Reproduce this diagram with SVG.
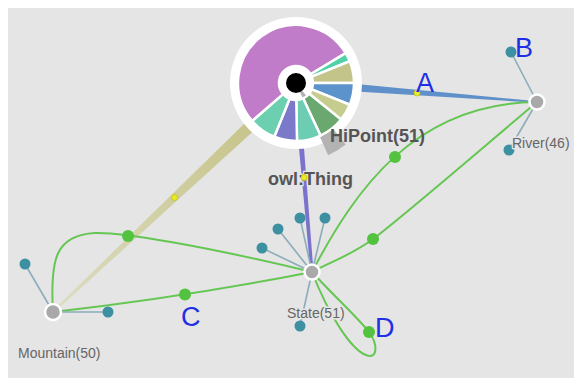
<svg xmlns="http://www.w3.org/2000/svg" width="574" height="378" viewBox="0 0 574 378">
  <defs>
    <linearGradient id="olive" gradientUnits="userSpaceOnUse" x1="296" y1="83" x2="53" y2="312">
      <stop offset="0" stop-color="#c2bf7f"/>
      <stop offset="1" stop-color="#dcdcc2"/>
    </linearGradient>
    <style>
      .green { fill: none; stroke: #66c653; stroke-width: 2; }
      .gdot { fill: #52c23f; }
      .sat { stroke: #8aadb9; stroke-width: 1.6; }
      .sdot { fill: #3d8fa2; }
      .node { fill: #a9a9a9; stroke: #ffffff; stroke-width: 2.5; }
      .ydot { fill: #e9e92e; stroke: #c4c400; stroke-width: 0.8; }
      .lbl { font-family: "Liberation Sans", Arial, sans-serif; font-size: 14px; fill: #666666; stroke: #e5e5e5; stroke-width: 3; paint-order: stroke; stroke-linejoin: round; }
      .big { font-family: "Liberation Sans", Arial, sans-serif; font-size: 18px; font-weight: bold; fill: #555555; }
      .letter { font-family: "Liberation Sans", Arial, sans-serif; font-size: 27px; fill: #1f2fe6; }
      .slice { stroke: #ffffff; stroke-width: 2.5; stroke-linejoin: round; }
    </style>
  </defs>

  <rect x="0" y="0" width="574" height="378" fill="#ffffff"/>
  <rect x="8" y="8" width="566" height="370" fill="#e5e5e5"/>

  <g id="connectors">
    <!-- tapered class links -->
    <polygon points="296.37,78.31 537.06,101.20 536.94,102.80 295.63,87.69" fill="#5f90c9"/>
    <polygon points="300.80,88.09 53.69,312.73 52.31,311.27 291.20,77.91" fill="url(#olive)"/>
    <polygon points="298.99,82.75 313.49,271.87 310.51,272.13 293.01,83.25" fill="#7b72cc"/>
    <!-- green property links -->
    <path class="green" d="M53,312 C50,260 55,235 95,233 C120,232 200,245 312,272"/>
    <path class="green" d="M53,312 Q185,297 312,272"/>
    <path class="green" d="M312,272 C355,190 415,103 537,102"/>
    <path class="green" d="M312,272 C330,262 350,256 373,239 C400,219 480,150 537,102"/>
    <path class="green" d="M312,272 C335,297 358,318 369,332 C378,344 378,360 366,355 C352,350 330,318 312,272"/>
    <!-- satellite links -->
    <line class="sat" x1="537" y1="102" x2="511" y2="52"/>
    <line class="sat" x1="537" y1="102" x2="509" y2="150"/>
    <line class="sat" x1="53" y1="312" x2="25" y2="264"/>
    <line class="sat" x1="53" y1="312" x2="108" y2="312"/>
    <line class="sat" x1="312" y1="272" x2="262" y2="248"/>
    <line class="sat" x1="312" y1="272" x2="278" y2="229"/>
    <line class="sat" x1="312" y1="272" x2="300" y2="218"/>
    <line class="sat" x1="312" y1="272" x2="325" y2="218"/>
    <line class="sat" x1="312" y1="272" x2="300" y2="326"/>
    <!-- link midpoints -->
    <circle class="gdot" cx="128" cy="236" r="6"/>
    <circle class="gdot" cx="185" cy="294.5" r="6"/>
    <circle class="gdot" cx="395" cy="157" r="6"/>
    <circle class="gdot" cx="373" cy="239" r="6"/>
    <circle class="gdot" cx="369" cy="332" r="6"/>
  </g>

  <g id="owl-thing">
    <circle cx="296" cy="83" r="66" fill="#ffffff"/>
    <path d="M296,83 L345.71,144.39 A79,79 0 0 1 328.13,155.17 Z" fill="#b3b3b3"/>
    <path class="slice" fill="#c07bc9" d="M252.23,121.05 A58,58 0 1 1 345.72,53.13 L310.57,74.24 A17,17 0 1 0 283.17,94.15 Z"/>
    <path class="slice" fill="#52d0a8" d="M345.72,53.13 A58,58 0 0 1 349.78,61.27 L311.76,76.63 A17,17 0 0 0 310.57,74.24 Z"/>
    <path class="slice" fill="#c3c48a" d="M349.78,61.27 A58,58 0 0 1 354,83 L313,83 A17,17 0 0 0 311.76,76.63 Z"/>
    <path class="slice" fill="#5c93cd" d="M354,83 A58,58 0 0 1 349.78,104.73 L311.76,89.37 A17,17 0 0 0 313,83 Z"/>
    <path class="slice" fill="#c6cc8e" d="M349.78,104.73 A58,58 0 0 1 341.07,119.50 L309.21,93.70 A17,17 0 0 0 311.76,89.37 Z"/>
    <path class="slice" fill="#6aa870" d="M341.07,119.50 A58,58 0 0 1 320.51,135.57 L303.18,98.41 A17,17 0 0 0 309.21,93.70 Z"/>
    <path class="slice" fill="#6ccdb3" d="M320.51,135.57 A58,58 0 0 1 297.01,140.99 L296.30,100 A17,17 0 0 0 303.18,98.41 Z"/>
    <path class="slice" fill="#7b79c9" d="M297.01,140.99 A58,58 0 0 1 274.27,136.78 L289.63,98.76 A17,17 0 0 0 296.30,100 Z"/>
    <path class="slice" fill="#6ccfb0" d="M274.27,136.78 A58,58 0 0 1 252.23,121.05 L283.17,94.15 A17,17 0 0 0 289.63,98.76 Z"/>
    <circle cx="296" cy="83" r="10" fill="#000000"/>
    <text class="big" x="330" y="142">HiPoint(51)</text>
    <text class="big" x="268" y="185" stroke="#e5e5e5" stroke-width="2.5" paint-order="stroke">owl:Thing</text>
  </g>

  <g id="edge-markers">
    <circle class="ydot" cx="417" cy="93" r="3"/>
    <circle class="ydot" cx="174.5" cy="197.5" r="3"/>
    <circle class="ydot" cx="304" cy="177.5" r="3"/>
  </g>

  <g id="river">
    <circle class="sdot" cx="511" cy="52" r="5.5"/>
    <circle class="sdot" cx="509" cy="150" r="5.5"/>
    <circle class="node" cx="537" cy="102" r="7.5"/>
    <text class="lbl" x="512" y="148">River(46)</text>
  </g>

  <g id="mountain">
    <circle class="sdot" cx="25" cy="264" r="5.5"/>
    <circle class="sdot" cx="108" cy="312" r="5.5"/>
    <circle class="node" cx="53" cy="312" r="8"/>
    <text class="lbl" x="18" y="358">Mountain(50)</text>
  </g>

  <g id="state">
    <circle class="sdot" cx="262" cy="248" r="5.5"/>
    <circle class="sdot" cx="278" cy="229" r="5.5"/>
    <circle class="sdot" cx="300" cy="218" r="5.5"/>
    <circle class="sdot" cx="325" cy="218" r="5.5"/>
    <circle class="sdot" cx="300" cy="326" r="5.5"/>
    <circle class="node" cx="312" cy="272" r="7.5"/>
    <text class="lbl" x="287" y="318">State(51)</text>
  </g>

  <g id="letters">
    <text class="letter" x="416" y="92">A</text>
    <text class="letter" x="515" y="57">B</text>
    <text class="letter" x="181" y="326">C</text>
    <text class="letter" x="375" y="337">D</text>
  </g>
</svg>
